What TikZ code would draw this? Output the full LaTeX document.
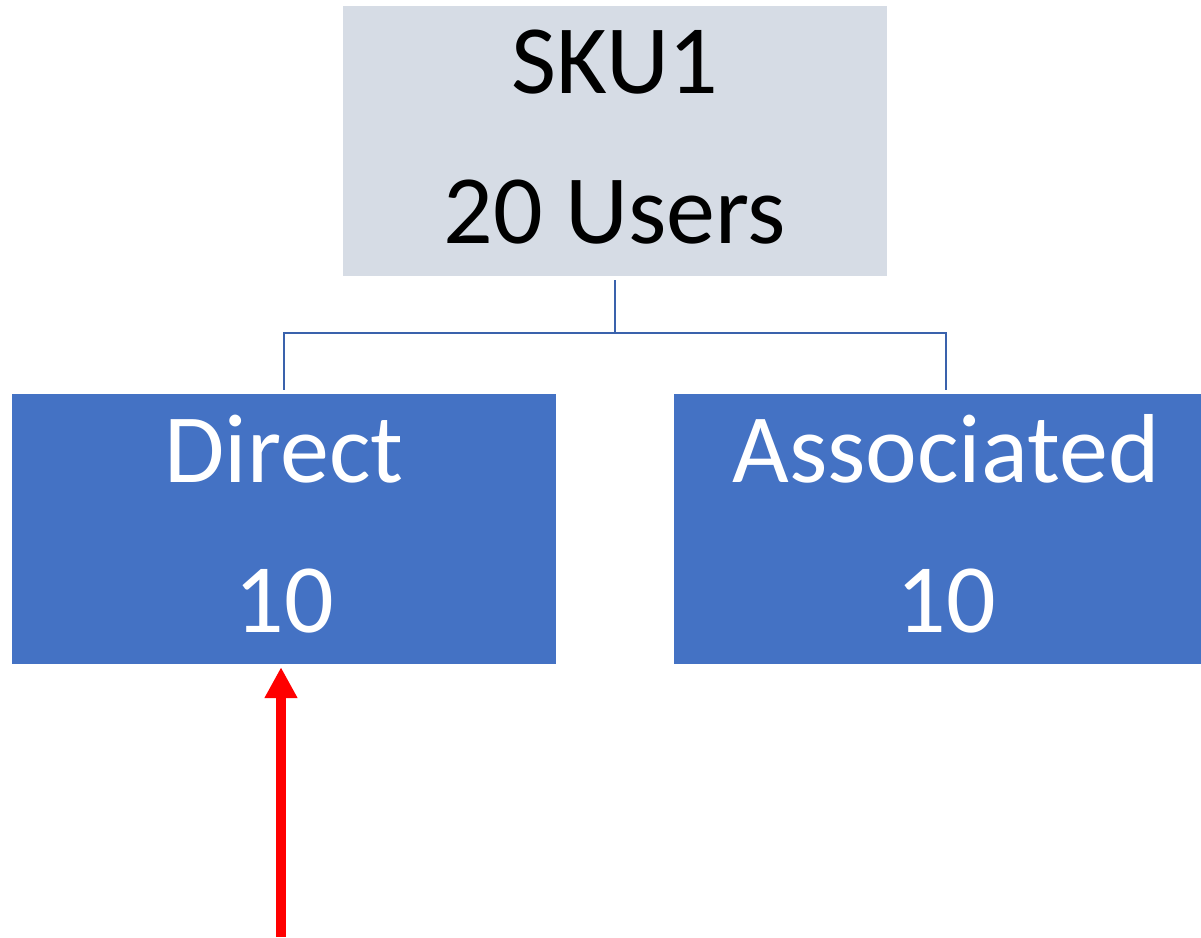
\documentclass[tikz,border=0pt]{standalone}
\usepackage{fontspec}
\setmainfont{Carlito}
\usetikzlibrary{arrows.meta,calc}
\definecolor{topfill}{HTML}{D6DCE5}
\definecolor{boxblue}{HTML}{4472C4}
\definecolor{connblue}{HTML}{3A62AC}
\definecolor{arrowred}{HTML}{FF0000}
\tikzset{
  topbox/.style={rectangle, fill=topfill, draw=none, minimum width=544pt, minimum height=270pt, inner sep=0pt},
  bluebox/.style={rectangle, fill=boxblue, draw=none, minimum width=544pt, minimum height=270pt, inner sep=0pt},
  bigtext/.style={font=\fontsize{98}{118}\selectfont, anchor=base, inner sep=0pt},
  conn/.style={draw=connblue, line width=2pt},
  redarrow/.style={draw=arrowred, line width=10pt, -{Triangle[width=31pt,length=31pt]}}
}
\begin{document}
\begin{tikzpicture}[x=1pt,y=-1pt]
\useasboundingbox (0,0) rectangle (1201,937);
\clip (0,0) rectangle (1201,937);
\node[topbox] (top) at (615,141) {};
\node[bluebox] (left) at (284,529) {};
\node[bluebox] (right) at (946,529) {};
\node[bigtext, text=black] (t1) at (615,93) {SKU1};
\node[bigtext, text=black] (t2) at (615,243) {20 Users};
\node[bigtext, text=white] (l1) at (284,482) {Direct};
\node[bigtext, text=white] (l2) at (284,632) {10};
\node[bigtext, text=white] (r1) at (946,482) {Associated};
\node[bigtext, text=white] (r2) at (946,632) {10};
\coordinate (mid) at (615,333);
\draw[conn, shorten <=4pt] (top.south) -- (mid);
\draw[conn, shorten >=4pt] (mid) -| (left.north);
\draw[conn, shorten >=4pt] (mid) -| (right.north);
\coordinate (tail) at (281,937);
\draw[redarrow] (tail) -- ($(tail |- left.south)+(0,3)$);
\end{tikzpicture}
\end{document}
